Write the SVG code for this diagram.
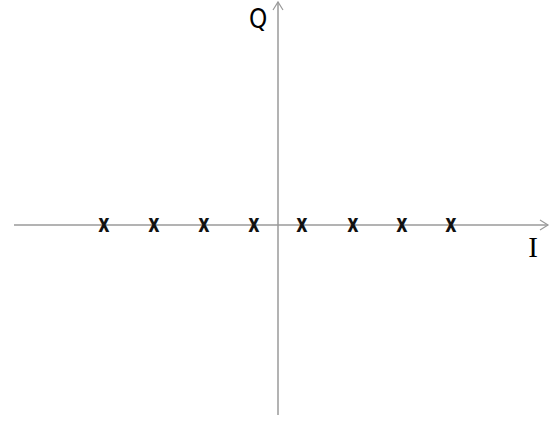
<svg xmlns="http://www.w3.org/2000/svg" width="550" height="421" viewBox="0 0 550 421">
<style>
.ax{stroke:#9a9a9a;stroke-width:1.5;fill:none}
.hd{stroke:#9a9a9a;stroke-width:1.2;fill:none}
.pt{font-family:"DejaVu Sans",sans-serif;font-size:25px;font-weight:600;fill:#111;text-anchor:middle}
.lb{font-family:"DejaVu Sans",sans-serif;font-size:27px;fill:#000}
</style>
<rect width="550" height="421" fill="#fff"/>
<g id="connectors">
<line class="ax" x1="14" y1="225" x2="548" y2="225"/>
<polyline class="hd" points="540,220 548,225 540,230"/>
<line class="ax" x1="278" y1="415" x2="278" y2="2"/>
<polyline class="hd" points="273,10 278,2 283,10"/>
</g>
<g id="points">
<text class="pt" transform="translate(104,232) scale(0.7,1)">x</text>
<text class="pt" transform="translate(154,232) scale(0.7,1)">x</text>
<text class="pt" transform="translate(204,232) scale(0.7,1)">x</text>
<text class="pt" transform="translate(254,232) scale(0.7,1)">x</text>
<text class="pt" transform="translate(302,232) scale(0.7,1)">x</text>
<text class="pt" transform="translate(353,232) scale(0.7,1)">x</text>
<text class="pt" transform="translate(402,232) scale(0.7,1)">x</text>
<text class="pt" transform="translate(451,232) scale(0.7,1)">x</text>
</g>
<g id="label-Q"><text class="lb" transform="translate(249,28) scale(0.86,1)">Q</text></g>
<g id="label-I"><text x="533" y="257" style="font-family:'Liberation Serif',serif;font-size:29px;fill:#000;text-anchor:middle">I</text></g>
</svg>
